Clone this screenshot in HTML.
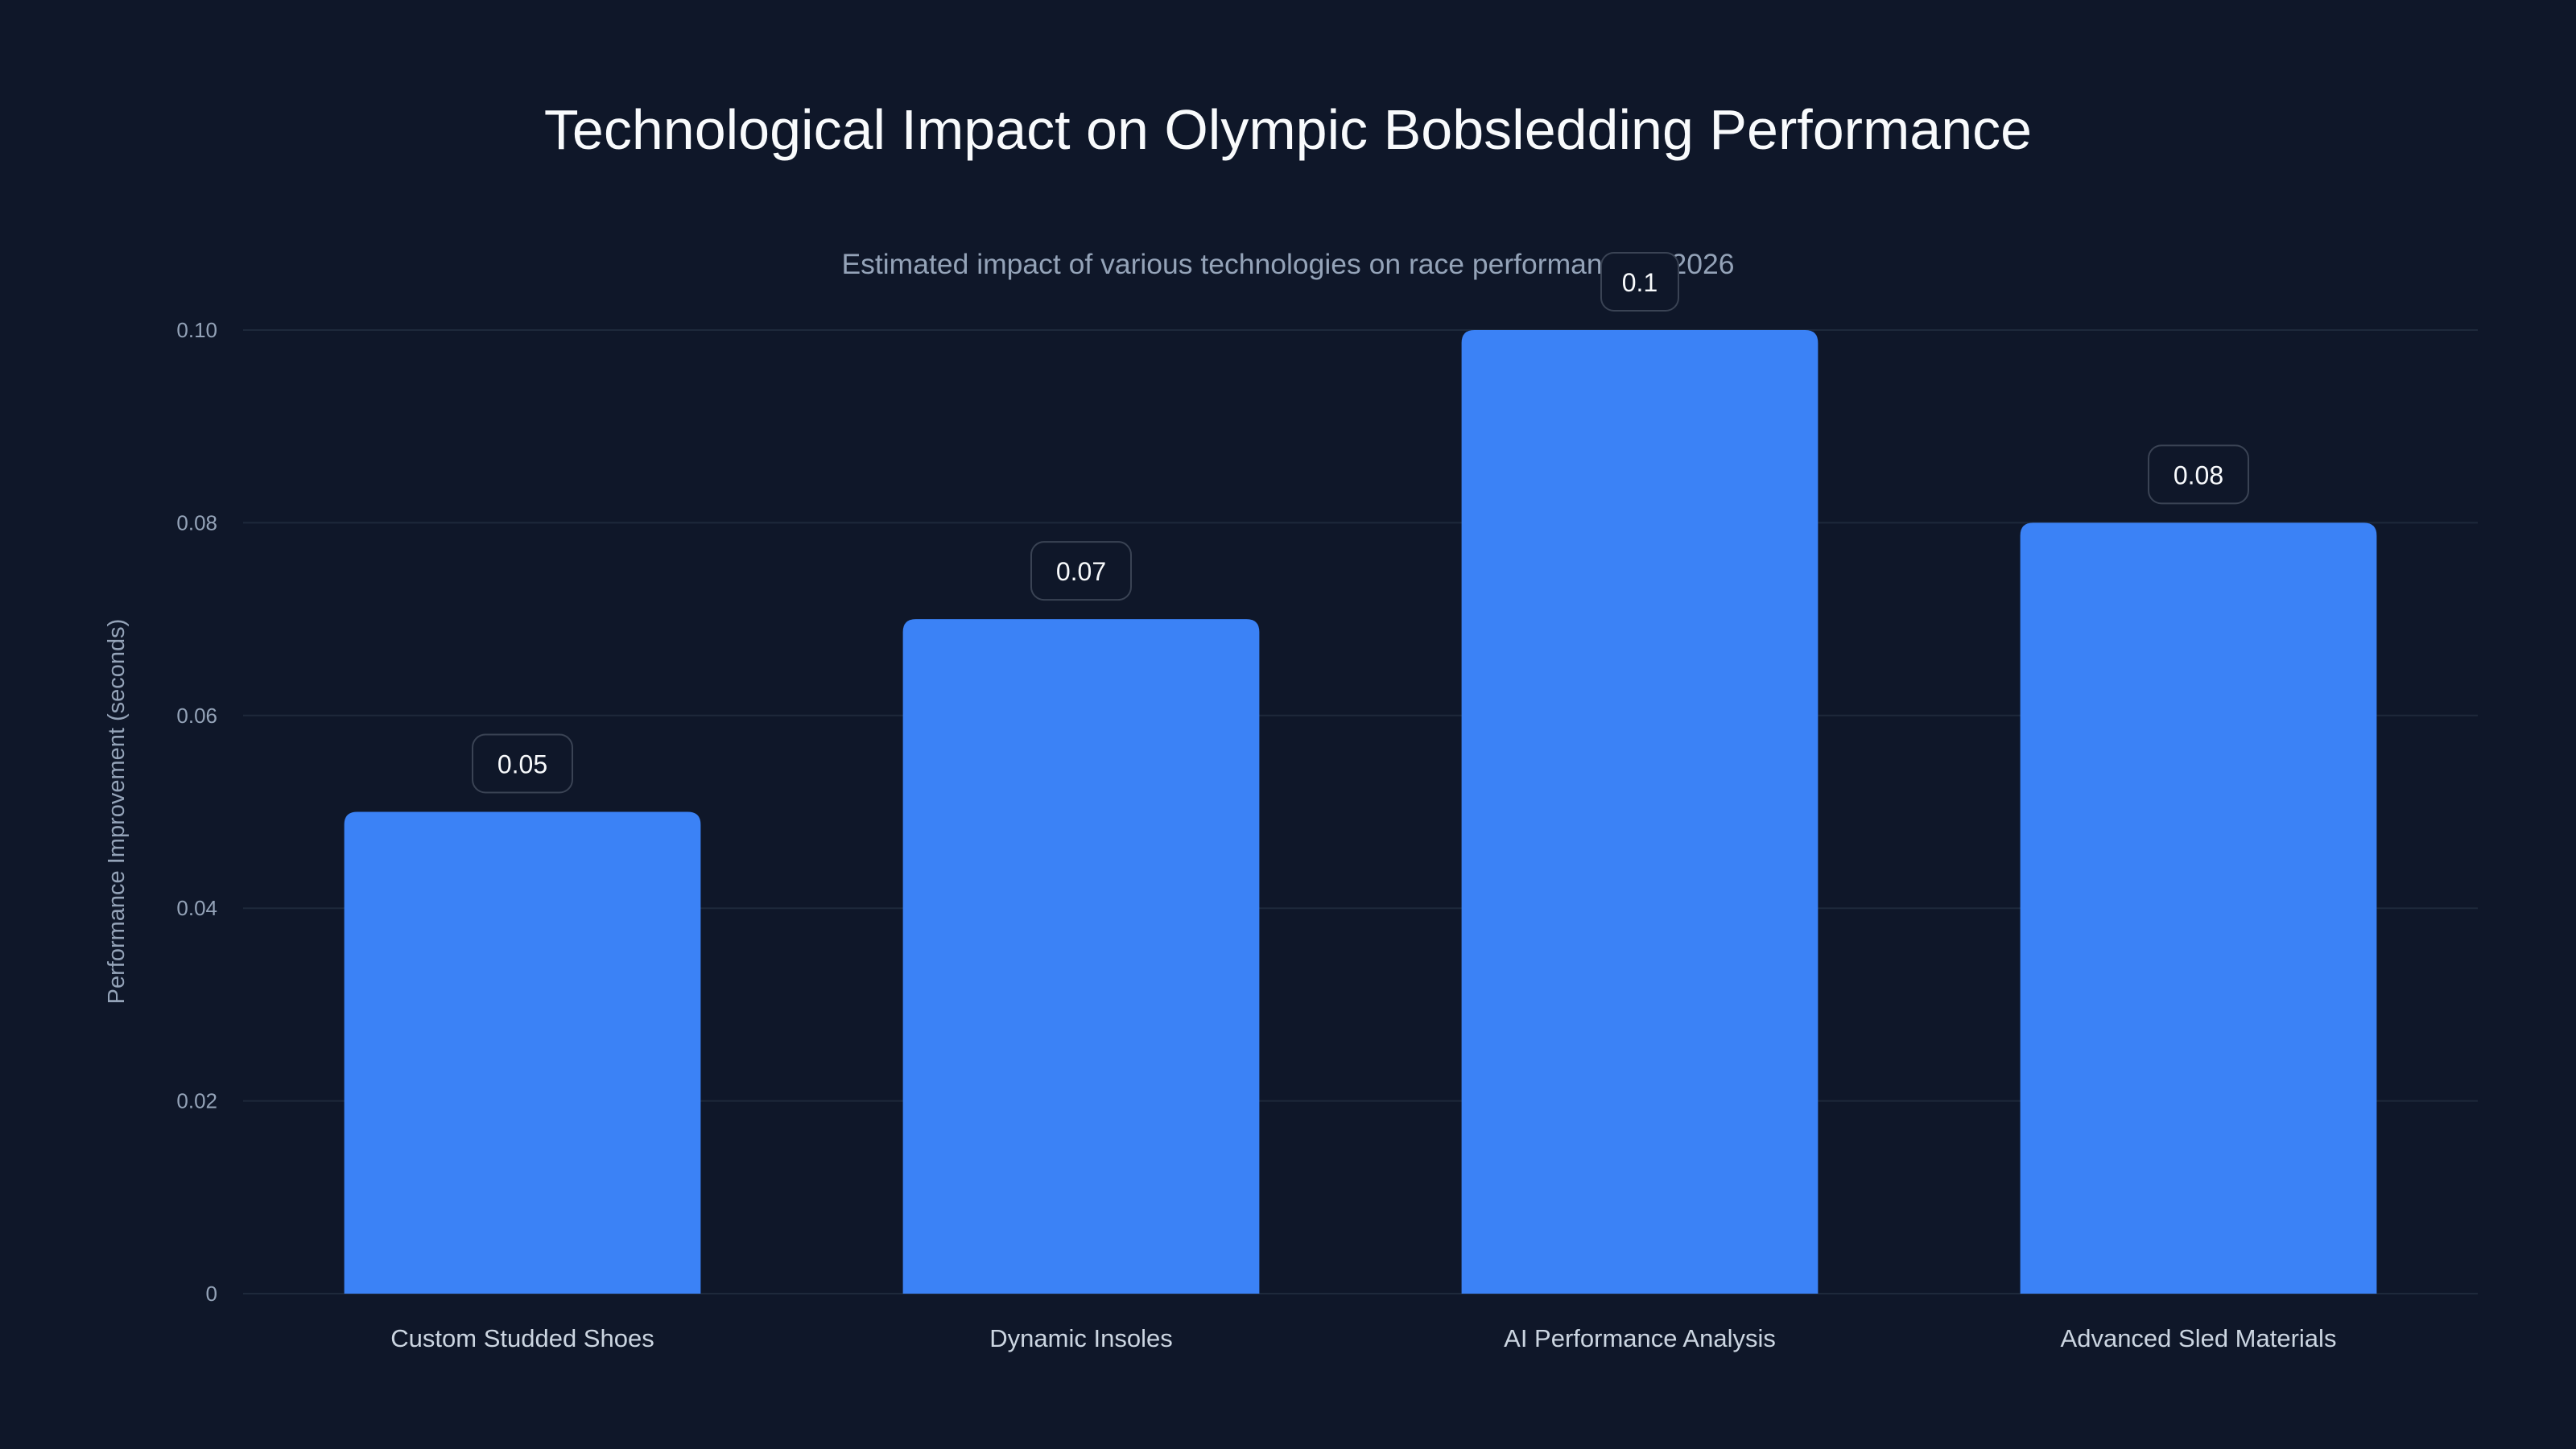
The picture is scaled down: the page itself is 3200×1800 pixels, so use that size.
<!DOCTYPE html>
<html><head><meta charset="utf-8"><style>
html,body{margin:0;padding:0;background:#0f1729;}
svg{display:block;font-family:"Liberation Sans",sans-serif;}
</style></head><body>
<svg id="chart" width="3200" height="1800" viewBox="0 0 3200 1800" xmlns="http://www.w3.org/2000/svg">
<rect x="0" y="0" width="3200" height="1800" fill="#0f1729"/>
<text x="1600" y="185" text-anchor="middle" font-size="70" fill="#f8fafc">Technological Impact on Olympic Bobsledding Performance</text>
<text x="1600" y="340" text-anchor="middle" font-size="35.5" fill="#94a3b8">Estimated impact of various technologies on race performance in 2026</text>
<g id="grid"></g>
<g id="yticks"></g>
<g id="bars"></g>
<g id="xlabels"></g>
<text transform="translate(154,1008) rotate(-90)" text-anchor="middle" font-size="29" fill="#94a3b8">Performance Improvement (seconds)</text>
</svg>
<script>
const categories = ["Custom Studded Shoes","Dynamic Insoles","AI Performance Analysis","Advanced Sled Materials"];
const values = [0.05,0.07,0.1,0.08];
const valueLabels = ["0.05","0.07","0.1","0.08"];
const yTicks = [0,0.02,0.04,0.06,0.08,0.10];
const yTickLabels = ["0","0.02","0.04","0.06","0.08","0.10"];

const NS="http://www.w3.org/2000/svg";
const L=302,R=3078,T=410,B=1607,yMax=0.10;
const y=v=>B-(v/yMax)*(B-T);
const band=(R-L)/categories.length;
const x=i=>L+band*i+band/2;
const bw=band*0.638;
function mk(tag,attrs,parent){const e=document.createElementNS(NS,tag);for(const k in attrs)e.setAttribute(k,attrs[k]);parent.appendChild(e);return e;}
const grid=document.getElementById('grid'),yt=document.getElementById('yticks'),bars=document.getElementById('bars'),xl=document.getElementById('xlabels');
yTicks.forEach((t,i)=>{
  const ln=mk('line',{x1:L,x2:R,y1:y(t),y2:y(t),stroke:'#1e293b','stroke-width':2},grid);
  
  
  const tx=mk('text',{x:270,y:y(t)+9,'text-anchor':'end','font-size':26,fill:'#94a3b8'},yt);
  tx.textContent=yTickLabels[i];
  
  
});
values.forEach((v,i)=>{
  const cx=x(i),top=y(v),r=16;
  const p=mk('path',{d:`M${cx-bw/2},${B} L${cx-bw/2},${top+r} Q${cx-bw/2},${top} ${cx-bw/2+r},${top} L${cx+bw/2-r},${top} Q${cx+bw/2},${top} ${cx+bw/2},${top+r} L${cx+bw/2},${B} Z`,fill:'#3b82f6'},bars);
  
  
  const w=valueLabels[i].length>3?124:96;
  const bx=mk('rect',{x:cx-w/2,y:top-96,width:w,height:72,rx:16,fill:'#0f1729',stroke:'#3a4354','stroke-width':2},bars);
  
  
  const vt=mk('text',{x:cx,y:top-48,'text-anchor':'middle','font-size':32,fill:'#f8fafc'},bars);
  vt.textContent=valueLabels[i];
  
  
  const ct=mk('text',{x:cx,y:1673,'text-anchor':'middle','font-size':31,fill:'#cbd5e1'},xl);
  ct.textContent=categories[i];
  
  
});
</script>
</body></html>
